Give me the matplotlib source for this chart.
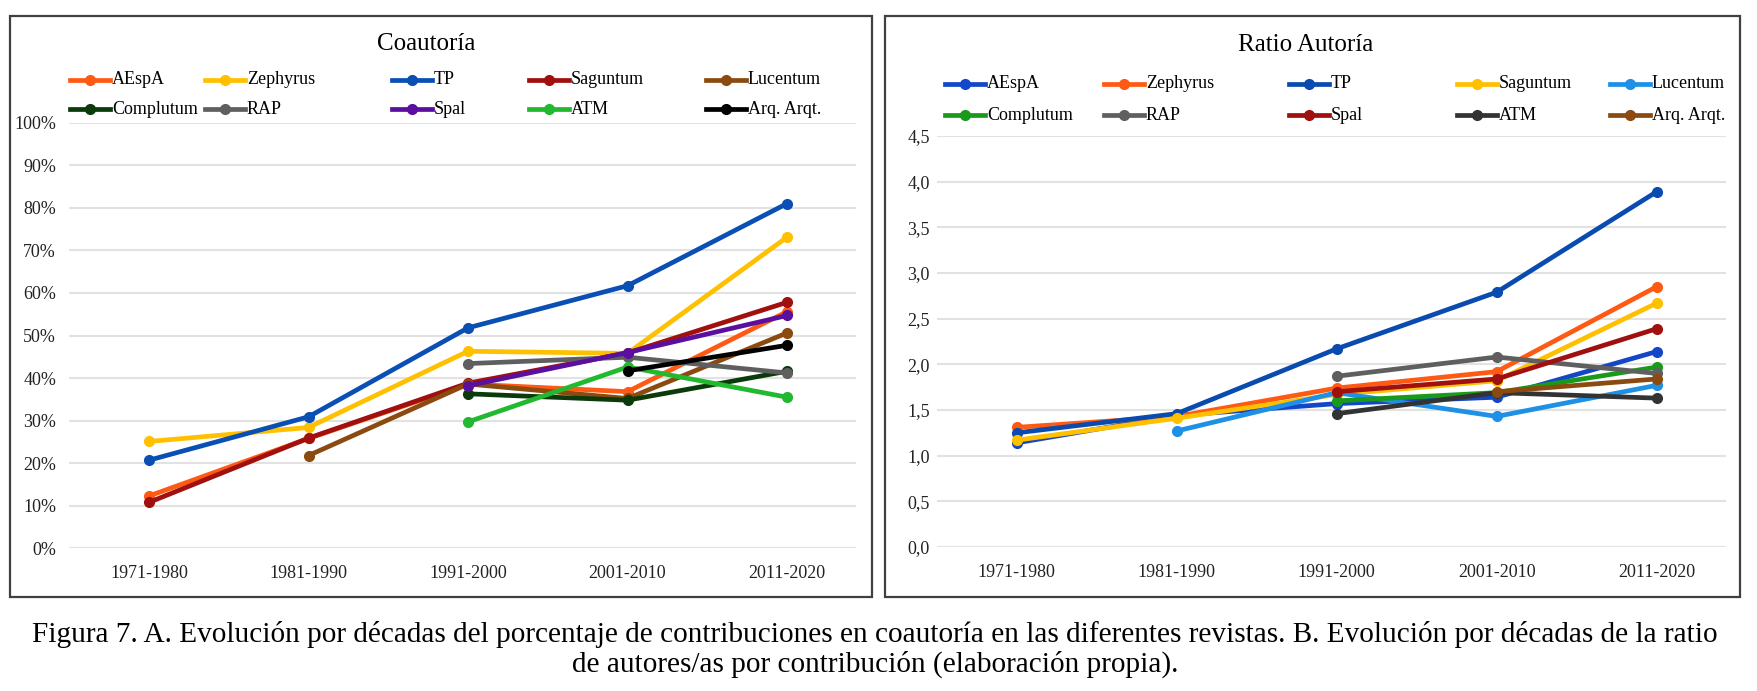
import numpy as np
import matplotlib
matplotlib.use("Agg")
import matplotlib.pyplot as plt
from matplotlib.lines import Line2D
from matplotlib.patches import Rectangle

plt.rcParams['font.family'] = ['Liberation Serif', 'DejaVu Serif']

nan = np.nan
decades = ['1971-1980', '1981-1990', '1991-2000', '2001-2010', '2011-2020']
journals = ['AEspA', 'Zephyrus', 'TP', 'Saguntum', 'Lucentum',
            'Complutum', 'RAP', 'Spal', 'ATM', 'Arq. Arqt.']

# A. Coautoría (%)
aespa_co = [12.3, 25.8, 38.6, 36.8, 55.6]
zephyrus_co = [25.1, 28.4, 46.3, 45.8, 73.1]
tp_co = [20.7, 30.9, 51.8, 61.7, 81.0]
saguntum_co = [10.8, 25.9, 38.8, 45.9, 57.8]
lucentum_co = [nan, 21.8, 38.6, 35.2, 50.6]
complutum_co = [nan, nan, 36.3, 34.8, 41.6]
rap_co = [nan, nan, 43.4, 44.9, 41.2]
spal_co = [nan, nan, 38.2, 46.0, 54.7]
atm_co = [nan, nan, 29.7, 42.6, 35.5]
arq_co = [nan, nan, nan, 41.7, 47.7]

# B. Ratio autoría
aespa_r = [1.14, 1.44, 1.57, 1.64, 2.14]
zephyrus_r = [1.31, 1.43, 1.74, 1.92, 2.85]
tp_r = [1.25, 1.46, 2.17, 2.79, 3.89]
saguntum_r = [1.17, 1.41, 1.67, 1.82, 2.67]
lucentum_r = [nan, 1.27, 1.69, 1.43, 1.77]
complutum_r = [nan, nan, 1.60, 1.69, 1.97]
rap_r = [nan, nan, 1.87, 2.08, 1.90]
spal_r = [nan, nan, 1.70, 1.84, 2.39]
atm_r = [nan, nan, 1.46, 1.69, 1.63]
arq_r = [nan, nan, nan, 1.70, 1.84]

co_series = [aespa_co, zephyrus_co, tp_co, saguntum_co, lucentum_co,
             complutum_co, rap_co, spal_co, atm_co, arq_co]
r_series = [aespa_r, zephyrus_r, tp_r, saguntum_r, lucentum_r,
            complutum_r, rap_r, spal_r, atm_r, arq_r]

co_colors = ['#FF5A14', '#FFC000', '#0A4FB4', '#A0100F', '#8B4A0F',
             '#0B3A0B', '#5F5F5F', '#5A0F9E', '#22B830', '#000000']
r_colors = ['#1446C8', '#FF5A14', '#0A4BAF', '#FFC000', '#1E90E6',
            '#1A9A1A', '#5F5F5F', '#A0100F', '#333333', '#8B4A0F']

W, H = 1757, 691
fig = plt.figure(figsize=(W / 100, H / 100), dpi=100)


def px_axes(x0, x1, ybot, ytop):
    return fig.add_axes([x0 / W, 1 - ybot / H, (x1 - x0) / W, (ybot - ytop) / H])


# panel frames
for (x0, x1) in [(10, 872), (885, 1740)]:
    fig.patches.append(Rectangle((x0 / W, 1 - 597 / H), (x1 - x0) / W, (597 - 16) / H,
                                 transform=fig.transFigure, fill=False,
                                 edgecolor='#404040', linewidth=1.6))

ax1 = px_axes(69.3, 855.6, 548.3, 122.7)
ax2 = px_axes(936.7, 1725.5, 547, 136)

x = np.arange(len(decades))


def style(ax, ylim, yticks, ylabels, ypad):
    ax.set_xlim(-0.5, 4.43)
    ax.set_ylim(*ylim)
    ax.set_yticks(yticks)
    ax.set_yticklabels(ylabels)
    ax.set_xticks(x)
    ax.set_xticklabels(decades)
    ax.grid(axis='y', color='#E2E2E2', linewidth=1.5)
    ax.set_axisbelow(True)
    for s in ax.spines.values():
        s.set_visible(False)
    ax.tick_params(axis='both', length=0, labelsize=13, colors='#222222')
    ax.tick_params(axis='x', pad=12)
    ax.tick_params(axis='y', pad=ypad)
    ax.patch.set_alpha(0)


style(ax1, (0, 100), np.arange(0, 101, 10), [f'{v}%' for v in range(0, 101, 10)], 9.5)
style(ax2, (0, 4.5), np.arange(0, 4.51, 0.5),
      [f'{v:.1f}'.replace('.', ',') for v in np.arange(0, 4.51, 0.5)], 5)

for ys, c in zip(co_series, co_colors):
    ax1.plot(x, ys, color=c, linewidth=3.4, marker='o', markersize=7, clip_on=False)
for ys, c in zip(r_series, r_colors):
    ax2.plot(x, ys, color=c, linewidth=3.4, marker='o', markersize=7, clip_on=False)

# titles
fig.text(426 / W, 1 - 44 / H, 'Coautoría', ha='center', va='center', fontsize=18)
fig.text(1306 / W, 1 - 45 / H, 'Ratio Autoría', ha='center', va='center', fontsize=18)


def legend(cols, rows_y, colors):
    for i, (name, c) in enumerate(zip(journals, colors)):
        col, row = i % 5, i // 5
        x0 = cols[col]
        y = 1 - rows_y[row] / H
        fig.add_artist(Line2D([x0 / W, (x0 + 40) / W], [y, y], color=c, linewidth=3.4,
                              transform=fig.transFigure))
        fig.add_artist(Line2D([(x0 + 20) / W], [y], color=c, marker='o', markersize=7,
                              transform=fig.transFigure))
        fig.text((x0 + 42) / W, y, name, ha='left', va='center', fontsize=13)


legend([70, 205, 392, 529, 706], [80, 109], co_colors)
legend([945, 1104, 1289, 1457, 1610], [84, 115], r_colors)

fig.text(875 / W, 1 - 634 / H,
         'Figura 7. A. Evolución por décadas del porcentaje de contribuciones en coautoría en las '
         'diferentes revistas. B. Evolución por décadas de la ratio',
         ha='center', va='center', fontsize=21.1)
fig.text(875 / W, 1 - 664 / H, 'de autores/as por contribución (elaboración propia).',
         ha='center', va='center', fontsize=21.1)

fig.savefig('out.png', dpi=100)
